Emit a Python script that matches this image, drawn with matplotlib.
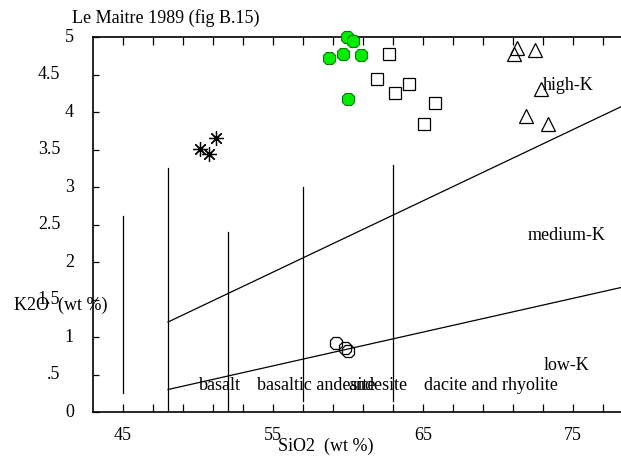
import matplotlib
matplotlib.use("Agg")
import matplotlib.pyplot as plt
from matplotlib.transforms import blended_transform_factory

plt.rcParams['font.family'] = ['Liberation Serif', 'DejaVu Serif']

# samples
ast_x = [50.1, 50.7, 51.2]
ast_y = [3.51, 3.44, 3.65]
grn_x = [59.9, 60.35, 58.7, 59.65, 60.87, 60.02]
grn_y = [5.00, 4.95, 4.72, 4.77, 4.76, 4.18]
sq_x = [62.7, 61.96, 64.07, 63.15, 65.78, 65.05]
sq_y = [4.77, 4.44, 4.38, 4.26, 4.12, 3.84]
tri_x = [71.29, 71.07, 72.47, 72.84, 71.87, 73.36]
tri_y = [4.85, 4.78, 4.83, 4.31, 3.95, 3.84]
oc_x = [59.2, 59.8, 59.98]
oc_y = [0.92, 0.85, 0.82]

# field boundaries
vlines_x = [45, 48, 52, 57, 63]
vlines_lo = [0.25, 0.0, 0.0, 0.15, 0.15]
vlines_hi = [2.61, 3.25, 2.4, 3.0, 3.29]
hk_x = [48, 78.2]
hk_y = [1.2, 4.07]
lk_x = [48, 78.2]
lk_y = [0.3, 1.66]

xticks = [45, 47, 49, 51, 53, 55, 57, 59, 61, 63, 65, 67, 69, 71, 73, 75, 77]
xlabels = ['45', '', '', '', '', '55', '', '', '', '', '65', '', '', '', '', '75', '']
yticks = [0, 0.5, 1, 1.5, 2, 2.5, 3, 3.5, 4, 4.5, 5]
ylabels = ['0', '.5', '1', '1.5', '2', '2.5', '3', '3.5', '4', '4.5', '5']

fs = 13

fig = plt.figure(figsize=(6.21, 4.58), dpi=100)
ax = fig.add_axes([0.1498, 0.1004, 0.8502, 0.8188])
ax.set_xlim(43, 78.2)
ax.set_ylim(0, 5)

for x, lo, hi in zip(vlines_x, vlines_lo, vlines_hi):
    ax.plot([x, x], [lo, hi], color='black', lw=0.9)
ax.plot(hk_x, hk_y, color='black', lw=0.9)
ax.plot(lk_x, lk_y, color='black', lw=0.9)

ax.plot(ast_x, ast_y, ls='none', marker=(8, 2, 0), ms=10.5, mec='black', mew=0.9)
ax.plot(grn_x, grn_y, ls='none', marker='8', ms=9.5, mfc='#00ee00', mec='#0a7a0a',
        mew=0.8, clip_on=False, zorder=5)
ax.plot(sq_x, sq_y, ls='none', marker='s', ms=9, mfc='white', mec='black', mew=0.9)
ax.plot(tri_x, tri_y, ls='none', marker='^', ms=9.5, mfc='none', mec='black', mew=0.9)
ax.plot(oc_x, oc_y, ls='none', marker='8', ms=9.5, mfc='none', mec='black', mew=0.9)

ax.spines['right'].set_visible(False)
for s in ['left', 'bottom', 'top']:
    ax.spines[s].set_linewidth(1.2)

ax.set_xticks(xticks)
ax.set_xticklabels(xlabels, fontsize=fs)
ax.tick_params(axis='x', direction='in', length=6, width=0.9, top=True, pad=11)
ax.set_yticks(yticks)
ax.set_yticklabels([])
ax.tick_params(axis='y', direction='in', length=4, width=0.9)

tr = blended_transform_factory(ax.transAxes, ax.transData)
for v, lab in zip(yticks, ylabels):
    xpos = -0.036 if '.' not in lab else -0.062
    ax.text(xpos, v, lab, transform=tr, ha='right', va='center', fontsize=fs)

ax.text(51.45, 0.36, 'basalt', ha='center', va='center', fontsize=fs)
ax.text(57.9, 0.36, 'basaltic andesite', ha='center', va='center', fontsize=fs)
ax.text(62.0, 0.36, 'andesite', ha='center', va='center', fontsize=fs)
ax.text(69.5, 0.36, 'dacite and rhyolite', ha='center', va='center', fontsize=fs)
ax.text(74.7, 4.36, 'high-K', ha='center', va='center', fontsize=fs)
ax.text(74.6, 2.36, 'medium-K', ha='center', va='center', fontsize=fs)
ax.text(74.6, 0.62, 'low-K', ha='center', va='center', fontsize=fs)

fig.text(166 / 621, 1 - 18 / 458, 'Le Maitre 1989 (fig B.15)', ha='center', va='center', fontsize=fs)
fig.text(326 / 621, 1 - 446 / 458, 'SiO2  (wt %)', ha='center', va='center', fontsize=fs)
fig.text(61 / 621, 1 - 305 / 458, 'K2O  (wt %)', ha='center', va='center', fontsize=fs)

fig.savefig('out.png', dpi=100)
